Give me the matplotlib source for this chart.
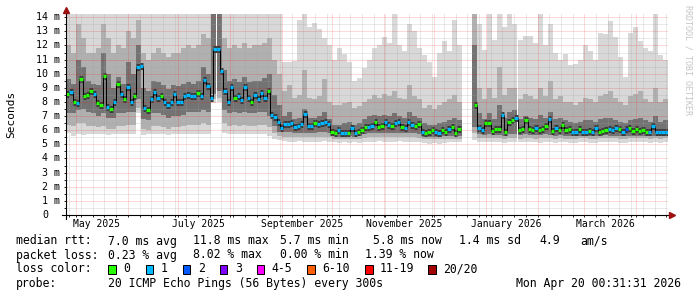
import matplotlib
matplotlib.use('Agg')
import matplotlib.pyplot as plt
import matplotlib.dates as mdates
from matplotlib.ticker import MultipleLocator
from matplotlib.patches import Rectangle
import numpy as np

plt.rcParams['font.family'] = ['DejaVu Sans Mono']

# 360 days ending at the graph time stamp
start = mdates.date2num(np.datetime64('2025-04-25T00:31:31'))
end = mdates.date2num(np.datetime64('2026-04-20T00:31:31'))

# median rtt (ms), one value per 2 days
median = [
    8.57, 8.73, 7.98, 7.91, 9.60, 8.40, 8.50, 8.80, 8.55, 7.95,
    7.79, 9.84, 7.67, 7.51, 8.03, 9.28, 8.55, 8.19, 9.06, 7.98,
    8.40, 10.50, 10.57, 7.60, 7.40, 8.19, 8.69, 8.30, 8.45, 8.03,
    7.80, 7.98, 8.55, 8.03, 7.98, 8.40, 8.50, 8.45, 8.45, 8.66,
    8.43, 9.56, 9.16, 8.26, 11.76, 11.76, 10.22, 8.80, 8.00, 9.09,
    8.30, 8.43, 8.14, 9.04, 8.31, 7.98, 8.50, 8.19, 8.62, 8.31,
    8.80, 7.08, 6.95, 6.61, 6.18, 6.42, 6.47, 6.50, 6.20, 6.30,
    6.42, 7.17, 6.32, 6.32, 6.49, 6.42, 6.49, 6.56, 6.42, 5.86,
    5.78, 6.02, 5.78, 5.78, 5.78, 6.18, 5.78, 5.86, 6.02, 6.25,
    6.25, 6.30, 6.61, 6.25, 6.32, 6.56, 6.37, 6.32, 6.49, 6.56,
    6.25, 6.18, 6.61, 6.40, 6.32, 6.42, 5.90, 5.78, 5.86, 6.02,
    5.88, 5.78, 6.02, 5.88, 6.09, 6.25, 5.78, 6.06, None, None,
    None, None, 7.79, 6.14, 6.02, 6.49, 6.49, 5.95, 6.09, 6.09,
    7.08, 5.90, 6.61, 6.73, 6.85, 6.02, 6.09, 6.73, 6.09, 6.02,
    6.14, 6.02, 6.09, 6.32, 6.78, 5.95, 6.14, 6.02, 6.37, 6.02,
    6.09, 5.90, 5.86, 6.09, 5.86, 5.90, 5.95, 5.88, 6.14, 5.90,
    5.95, 6.02, 6.09, 6.02, 6.14, 6.09, 5.90, 6.09, 6.14, 5.95,
    6.09, 5.95, 6.02, 5.90, 5.86, 6.32, 5.86, 5.90, 5.86, 5.86,
]

# lost pings (of 20) for each 2-day median value
loss = [
    0, 1, 0, 1, 0, 0, 0, 0, 1, 0,
    0, 0, 1, 0, 1, 0, 1, 0, 1, 1,
    0, 1, 1, 1, 0, 1, 1, 1, 0, 1,
    1, 1, 1, 1, 1, 1, 1, 1, 1, 0,
    1, 1, 1, 1, 1, 1, 1, 1, 1, 1,
    0, 1, 1, 1, 1, 0, 1, 1, 1, 1,
    0, 1, 1, 1, 1, 1, 1, 1, 1, 1,
    1, 1, 1, 1, 0, 1, 1, 1, 1, 0,
    0, 1, 1, 1, 0, 1, 1, 0, 0, 0,
    1, 1, 0, 0, 0, 1, 1, 0, 1, 1,
    0, 1, 1, 1, 0, 0, 1, 0, 0, 0,
    1, 1, 0, 0, 1, 0, 0, 0, 0, 0,
    0, 0, 0, 1, 1, 0, 0, 0, 0, 0,
    1, 0, 0, 0, 1, 0, 0, 0, 0, 0,
    1, 0, 0, 0, 1, 0, 1, 0, 0, 0,
    0, 1, 1, 0, 1, 1, 0, 1, 1, 0,
    0, 0, 1, 1, 1, 0, 1, 2, 0, 0,
    0, 0, 0, 0, 1, 1, 1, 1, 1, 1,
]

# ping spread ("smoke"), ms, one value per 3 days
smoke_max = [
    14.3, 14.3, 14.3, 14.3, 14.3, 14.3, 14.3, 14.3, 14.3, 14.3,
    14.3, 14.3, 14.3, 14.3, 14.3, 14.3, 14.3, 14.3, 14.3, 14.3,
    14.3, 14.3, 14.3, 14.3, 14.3, 14.3, 14.3, 14.3, 14.3, 14.3,
    14.3, 14.3, 14.3, 14.3, 14.3, 14.3, 14.3, 14.3, 14.3, 14.3,
    14.3, 14.3, 14.3, 10.8, 10.8, 10.9, 13.8, 14.3, 13.3, 13.6,
    13.2, 12.5, 12.0, 11.0, 11.8, 11.4, 10.8, 9.5, 9.7, 10.4,
    11.0, 11.8, 12.0, 12.6, 12.2, 14.3, 12.0, 11.6, 13.5, 13.0,
    11.8, 11.3, 10.8, 9.8, 11.5, 12.3, 11.6, 13.8, 12.0, None,
    None, 14.3, 13.5, 11.7, 14.3, 12.4, 14.3, 13.3, 14.3, 13.5,
    12.4, 12.7, 12.7, 12.2, 14.3, 12.0, 13.5, 11.5, 11.0, 11.4,
    10.6, 10.7, 11.0, 12.0, 11.6, 11.0, 12.9, 12.8, 13.7, 12.6,
    11.2, 9.8, 12.9, 13.3, 12.3, 11.8, 11.6, 14.3, 11.3, 11.0,
]
smoke_hi = [
    12.0, 11.5, 13.5, 12.5, 11.5, 11.5, 11.8, 13.5, 12.5, 11.5,
    12.0, 11.8, 13.0, 12.5, 13.8, 11.5, 11.0, 11.5, 11.8, 11.5,
    11.2, 11.5, 11.5, 11.8, 12.0, 11.8, 12.0, 12.8, 12.5, 14.3,
    14.3, 12.5, 11.8, 12.0, 11.8, 12.2, 11.8, 12.0, 12.0, 12.2,
    12.5, 11.0, 10.0, 8.8, 9.2, 8.3, 8.5, 10.3, 8.3, 8.2,
    8.4, 9.6, 8.0, 7.8, 7.8, 7.9, 8.0, 7.6, 7.7, 8.0,
    8.2, 8.5, 8.3, 8.6, 8.4, 8.8, 8.3, 8.2, 9.2, 8.4,
    8.2, 7.6, 7.8, 7.5, 7.8, 8.0, 8.2, 8.5, 8.0, None,
    None, 14.3, 9.0, 8.2, 9.0, 8.3, 10.5, 8.5, 9.0, 9.0,
    8.2, 8.6, 8.4, 8.2, 9.0, 8.4, 9.5, 8.2, 8.4, 8.0,
    8.0, 7.8, 8.0, 8.3, 8.2, 8.0, 8.4, 8.6, 8.8, 8.3,
    8.0, 7.8, 8.4, 8.6, 8.8, 8.2, 8.0, 9.0, 8.0, 8.2,
]
dark_hi = [
    9.6, 9.3, 11.0, 10.5, 9.5, 9.3, 9.2, 11.5, 10.0, 9.0,
    9.8, 9.3, 10.8, 10.0, 12.0, 9.0, 8.8, 9.5, 9.4, 9.2,
    8.9, 9.2, 9.1, 9.3, 9.4, 9.3, 9.5, 10.5, 10.0, 14.3,
    14.3, 10.3, 9.5, 9.6, 9.4, 9.8, 9.4, 9.5, 9.5, 9.7,
    10.0, 8.5, 7.8, 7.0, 7.3, 6.8, 6.9, 7.5, 6.9, 6.9,
    7.0, 7.3, 6.8, 6.4, 6.4, 6.5, 6.6, 6.4, 6.5, 6.8,
    7.0, 7.1, 7.0, 7.1, 7.0, 7.2, 7.0, 6.9, 7.3, 7.0,
    6.9, 6.5, 6.4, 6.4, 6.5, 6.6, 6.7, 6.9, 6.7, None,
    None, 12.0, 7.2, 6.8, 7.2, 6.8, 7.8, 6.9, 7.3, 7.4,
    6.8, 7.0, 6.9, 6.8, 7.1, 6.9, 7.3, 6.8, 6.9, 6.7,
    6.6, 6.5, 6.6, 6.7, 6.7, 6.6, 6.8, 6.9, 6.9, 6.7,
    6.6, 6.5, 6.7, 6.8, 6.9, 6.7, 6.6, 7.0, 6.6, 6.7,
]
dark_lo = [
    7.2, 7.2, 7.4, 7.5, 7.3, 7.2, 7.0, 7.2, 6.9, 6.9,
    7.2, 7.2, 7.3, 7.3, 8.2, 6.8, 6.7, 7.2, 7.2, 7.1,
    6.9, 7.0, 7.0, 7.1, 7.3, 7.3, 7.3, 7.4, 7.3, 8.6,
    8.8, 7.4, 7.2, 7.3, 7.2, 7.3, 7.2, 7.2, 7.3, 7.3,
    7.0, 6.3, 5.9, 5.9, 5.9, 5.8, 5.8, 5.8, 5.8, 5.8,
    5.85, 5.85, 5.8, 5.6, 5.55, 5.55, 5.6, 5.55, 5.6, 5.75,
    5.8, 5.8, 5.8, 5.8, 5.8, 5.8, 5.8, 5.8, 5.8, 5.8,
    5.75, 5.55, 5.55, 5.55, 5.55, 5.6, 5.6, 5.6, 5.6, None,
    None, 6.2, 5.7, 5.65, 5.7, 5.65, 5.65, 5.6, 5.7, 5.75,
    5.65, 5.7, 5.65, 5.65, 5.65, 5.7, 5.65, 5.6, 5.65, 5.6,
    5.6, 5.6, 5.6, 5.6, 5.6, 5.6, 5.6, 5.65, 5.6, 5.6,
    5.6, 5.6, 5.6, 5.6, 5.6, 5.6, 5.6, 5.6, 5.6, 5.6,
]
smoke_lo = [
    6.4, 6.3, 6.5, 6.5, 6.3, 6.3, 6.2, 6.3, 6.1, 6.1,
    6.3, 6.3, 6.4, 6.4, 7.6, 6.1, 6.0, 6.3, 6.3, 6.2,
    6.1, 6.2, 6.2, 6.3, 6.4, 6.4, 6.4, 6.5, 6.4, 8.2,
    8.3, 6.5, 6.3, 6.4, 6.3, 6.4, 6.3, 6.3, 6.4, 6.4,
    6.2, 5.8, 5.6, 5.5, 5.5, 5.5, 5.5, 5.5, 5.5, 5.5,
    5.5, 5.5, 5.5, 5.4, 5.4, 5.4, 5.4, 5.4, 5.4, 5.45,
    5.5, 5.5, 5.5, 5.5, 5.5, 5.5, 5.5, 5.5, 5.5, 5.5,
    5.45, 5.4, 5.4, 5.4, 5.4, 5.4, 5.4, 5.4, 5.4, None,
    None, 5.8, 5.45, 5.45, 5.45, 5.45, 5.45, 5.4, 5.45, 5.45,
    5.4, 5.45, 5.45, 5.4, 5.45, 5.45, 5.45, 5.4, 5.45, 5.4,
    5.4, 5.4, 5.45, 5.45, 5.4, 5.4, 5.45, 5.45, 5.45, 5.45,
    5.4, 5.4, 5.45, 5.45, 5.45, 5.45, 5.4, 5.45, 5.4, 5.45,
]
smoke_min = [
    5.8, 5.6, 5.7, 5.65, 5.7, 5.75, 5.7, 5.7, 5.65, 5.7,
    5.7, 5.75, 5.7, 5.7, 7.2, 5.65, 5.7, 5.75, 5.7, 5.7,
    5.65, 5.7, 5.75, 5.7, 5.7, 5.75, 5.75, 5.7, 5.7, 7.9,
    8.0, 5.8, 5.75, 5.7, 5.75, 5.75, 5.7, 5.75, 5.75, 5.7,
    5.6, 5.4, 5.3, 5.25, 5.2, 5.2, 5.25, 5.2, 5.2, 5.2,
    5.2, 5.25, 5.2, 5.15, 5.1, 5.15, 5.1, 5.15, 5.1, 5.15,
    5.2, 5.2, 5.25, 5.2, 5.2, 5.2, 5.25, 5.2, 5.2, 5.2,
    5.2, 5.1, 5.05, 5.1, 5.05, 5.1, 5.15, 5.15, 5.2, None,
    None, 5.3, 5.2, 5.15, 5.15, 5.2, 5.15, 5.1, 5.15, 5.2,
    5.15, 5.2, 5.15, 5.15, 5.1, 5.15, 5.15, 5.1, 5.15, 5.15,
    5.1, 5.1, 5.15, 5.15, 5.1, 5.1, 5.15, 5.15, 5.2, 5.15,
    5.1, 5.1, 5.15, 5.15, 5.2, 5.15, 5.1, 5.15, 5.1, 5.15,
]

loss_labels = ['0', '1', '2', '3', '4-5', '6-10', '11-19', '20/20']
loss_colors = ['#26ff00', '#00b8ff', '#0059ff', '#7e00ff', '#ff00ff', '#ff5e00', '#ff0000', '#a10000']

month_labels = ['May 2025', 'July 2025', 'September 2025', 'November 2025', 'January 2026', 'March 2026']
month_starts = ['2025-05-01', '2025-07-01', '2025-09-01', '2025-11-01', '2026-01-01', '2026-03-01']

W, H = 697, 297
fig = plt.figure(figsize=(W / 100, H / 100), dpi=100, facecolor='white')
ax = fig.add_axes([66 / W, 82 / H, 602 / W, 201 / H])

# smoke
smax = np.array(smoke_max, dtype=float)
shi = np.array(smoke_hi, dtype=float)
dhi = np.array(dark_hi, dtype=float)
dlo = np.array(dark_lo, dtype=float)
slo = np.array(smoke_lo, dtype=float)
smin = np.array(smoke_min, dtype=float)
ts = start + 3 * np.arange(len(smax))
for top, bot, col in [(smax, smin, '#d8d8d8'), (shi, slo, '#b0b0b0'), (dhi, dlo, '#737373')]:
    ax.bar(ts, top - bot, bottom=bot, width=3, align='edge', color=col,
           linewidth=0, antialiased=False, zorder=1)

# median line, coloured by loss
med = np.array(median, dtype=float)
lost = np.array(loss)
tm = start + 2 * np.arange(len(med))
ok = ~np.isnan(med)
# darkest smoke hugs the median
ax.hlines(med[ok], tm[ok], tm[ok] + 2, colors='#3a3a3a', lw=5, capstyle='butt', zorder=2)
ax.step(np.append(tm, tm[-1] + 2), np.append(med, med[-1]), where='post',
        color='black', lw=0.72, zorder=3)
for k, col in enumerate(loss_colors[:3]):
    m = (lost == k) & ok
    ax.hlines(med[m], tm[m], tm[m] + 2, colors=col, lw=2.3, capstyle='butt', zorder=4)

ax.set_xlim(start, end)
ax.set_ylim(0, 14.23)

# grid
ax.xaxis.set_major_locator(mdates.MonthLocator())
ax.xaxis.set_minor_locator(mdates.WeekdayLocator(byweekday=mdates.SU))
ax.yaxis.set_major_locator(MultipleLocator(1))
ax.yaxis.set_minor_locator(MultipleLocator(0.5))
ax.set_axisbelow(False)
ax.grid(which='minor', color='#a0a0a0', alpha=0.45, lw=0.72, ls=(0, (1, 1)))
ax.grid(which='major', color='#ff0000', alpha=0.3, lw=0.72, ls=(0, (1, 1)))
ax.tick_params(which='both', direction='out', length=1.5, width=0.6,
               labelleft=False, labelbottom=False)
for s in ax.spines.values():
    s.set_visible(False)

# axes with arrows
ax.plot([-4 / 602, 1 + 4 / 602], [0, 0], transform=ax.transAxes, color='black',
        lw=0.8, clip_on=False, zorder=6)
ax.plot([0, 0], [-4 / 201, 1 + 3 / 201], transform=ax.transAxes, color='black',
        lw=0.8, clip_on=False, zorder=6)
ax.plot([1 + 4 / 602], [0], marker='>', ms=4.5, color='#9c1010', mec='#9c1010',
        transform=ax.transAxes, clip_on=False, zorder=7)
ax.plot([0], [1 + 4 / 201], marker='^', ms=4.5, color='#9c1010', mec='#9c1010',
        transform=ax.transAxes, clip_on=False, zorder=7)

# tick labels
ytr = ax.get_yaxis_transform()
for v in range(15):
    if v:
        ax.text(-6 / 602, v, f'{v} m', transform=ytr, ha='right', va='center', fontsize=7.2)
    else:
        ax.text(-18 / 602, v, '0', transform=ytr, ha='right', va='center', fontsize=7.2)
xtr = ax.get_xaxis_transform()
for d, lab in zip(month_starts, month_labels):
    ax.text(mdates.date2num(np.datetime64(d)) + 12.5, -9 / 201, lab, transform=xtr,
            ha='center', va='center', fontsize=7)

fig.text(11 / W, 1 - 114.5 / H, 'Seconds', rotation=90, ha='center', va='center', fontsize=8)
fig.text(688 / W, 1 - 60 / H, 'RRDTOOL / TOBI OETIKER', rotation=-90, ha='center',
         va='center', fontsize=6, color='#c4c4c4')


def put(x, y, s, **kw):
    fig.text(x / W, 1 - y / H, s, va='center', fontsize=8.3, **kw)


put(16, 241, 'median rtt:')
for x, s in [(107.8, '7.0 ms avg'), (192.9, '11.8 ms max'), (279.7, '5.7 ms min'),
             (373, '5.8 ms now'), (458.8, '1.4 ms sd'), (539, '4.9'), (580, 'am/s')]:
    put(x, 241, s)
put(16, 255, 'packet loss:')
for x, s in [(107.8, '0.23 % avg'), (192.9, '8.02 % max'), (279.7, '0.00 % min'),
             (365.3, '1.39 % now')]:
    put(x, 255, s)
put(16, 269, 'loss color:')
sq_x = [108.3, 145.7, 182.7, 220, 256.7, 307.3, 365, 428.3]
for x, lab, col in zip(sq_x, loss_labels, loss_colors):
    fig.add_artist(Rectangle((x / W, 1 - 273.5 / H), 7.5 / W, 9 / H, transform=fig.transFigure,
                             facecolor=col, edgecolor='black', lw=0.72))
    put(x + 15, 269, lab)
put(16, 283, 'probe:')
put(107.8, 283, '20 ICMP Echo Pings (56 Bytes) every 300s')
put(681, 283, 'Mon Apr 20 00:31:31 2026', ha='right')

fig.savefig('out.png', dpi=100, facecolor='white')
